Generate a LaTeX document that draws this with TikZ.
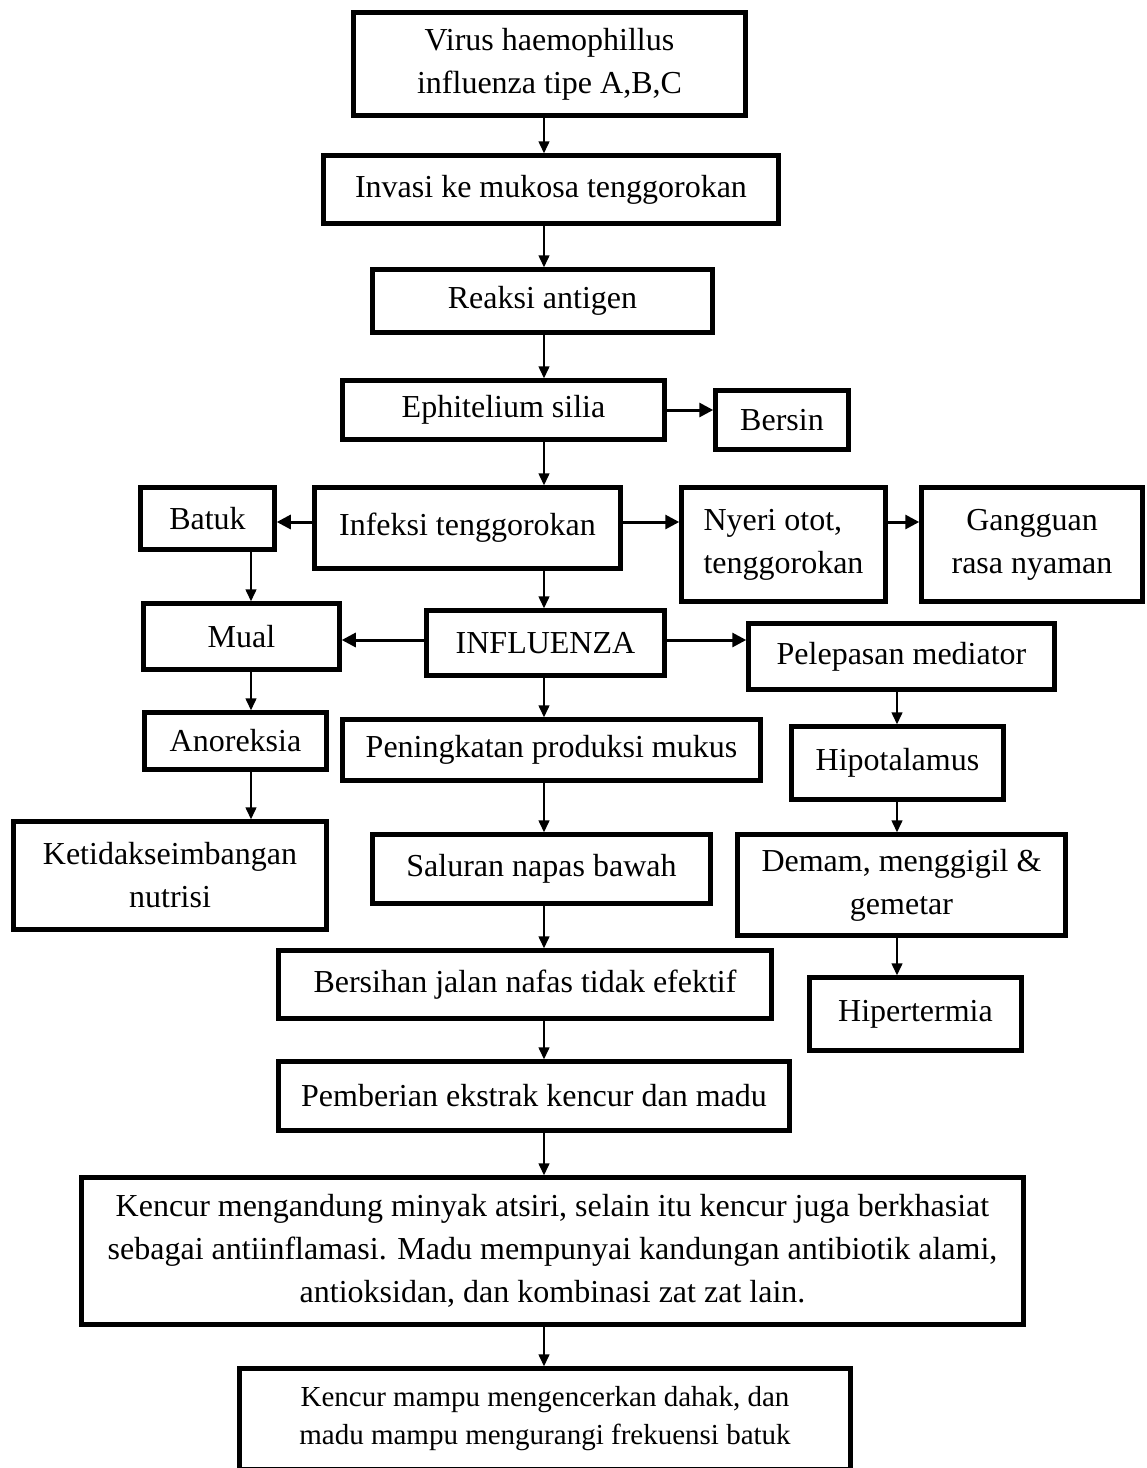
\documentclass[tikz,border=0pt]{standalone}
\usepackage{fontspec}
\setmainfont{Liberation Serif}
\usetikzlibrary{arrows.meta}
\usetikzlibrary{calc}

\begin{document}
\begin{tikzpicture}[x=1pt, y=-1pt,
  box/.style={draw, line width=4.5pt, inner sep=0pt, align=center,
    font=\fontsize{32}{43}\selectfont},
  arr/.style={line width=1.5pt, -{Triangle[length=12pt, width=11pt]}},
  harr/.style={line width=3pt, -{Triangle[length=14pt, width=14pt]}}]
\useasboundingbox (0,0) rectangle (1147,1468);
% kolom tengah
\node[box, minimum width=392pt, minimum height=103pt] (virus) at (549.5,64) {Virus haemophillus\\influenza tipe A,B,C};
\node[box, minimum width=455pt, minimum height=68pt] (invasi) at (551,189.5) {Invasi ke mukosa tenggorokan};
\node[box, minimum width=340pt, minimum height=63pt] (reaksi) at (542.5,301) {Reaksi antigen};
\node[box, minimum width=322pt, minimum height=59pt] (ephit) at (503.5,410) {Ephitelium silia};
\node[box, minimum width=133pt, minimum height=59pt] (bersin) at (782,420) {Bersin};
\node[box, minimum width=306pt, minimum height=81pt] (infeksi) at (467.5,528) {Infeksi tenggorokan};
\node[box, minimum width=238pt, minimum height=65pt] (influenza) at (545.5,643) {INFLUENZA};
\node[box, minimum width=418pt, minimum height=61pt] (peningkatan) at (551.5,750) {Peningkatan produksi mukus};
\node[box, minimum width=338pt, minimum height=69pt] (saluran) at (541.5,869) {Saluran napas bawah};
\node[box, minimum width=493pt, minimum height=68pt] (bersihan) at (525,984.5) {Bersihan jalan nafas tidak efektif};
\node[box, minimum width=511pt, minimum height=69pt] (pemberian) at (534,1096) {Pemberian ekstrak kencur dan madu};
\node[box, minimum width=942pt, minimum height=147pt] (kencur) at (552.5,1251) {Kencur mengandung minyak atsiri, selain itu kencur juga berkhasiat\\sebagai antiinflamasi. Madu mempunyai kandungan antibiotik alami,\\antioksidan, dan kombinasi zat zat lain.};
\node[box, minimum width=611pt, minimum height=101pt, font=\fontsize{29}{38}\selectfont] (hasil) at (545,1419) {Kencur mampu mengencerkan dahak, dan\\madu mampu mengurangi frekuensi batuk};
% kolom kiri
\node[box, minimum width=134pt, minimum height=62pt] (batuk) at (207.5,518.5) {Batuk};
\node[box, minimum width=196pt, minimum height=66pt] (mual) at (241.5,636.5) {Mual};
\node[box, minimum width=182pt, minimum height=57pt] (anoreksia) at (235.5,741) {Anoreksia};
\node[box, minimum width=313pt, minimum height=108pt] (nutrisi) at (170,875.5) {Ketidakseimbangan\\nutrisi};
% kolom kanan
\node[box, minimum width=204pt, minimum height=114pt, align=left] (nyeri) at (783.5,544.5) {Nyeri otot,\\tenggorokan};
\node[box, minimum width=221pt, minimum height=114pt] (nyaman) at (1032,544.5) {Gangguan\\rasa nyaman};
\node[box, minimum width=306pt, minimum height=66pt] (mediator) at (901.5,656.5) {Pelepasan mediator};
\node[box, minimum width=212pt, minimum height=73pt] (hipotalamus) at (897.5,763) {Hipotalamus};
\node[box, minimum width=328pt, minimum height=101pt] (demam) at (901.5,885) {Demam, menggigil \&\\gemetar};
\node[box, minimum width=212pt, minimum height=73pt] (hipertermia) at (915.5,1014) {Hipertermia};

\coordinate (spine) at (544,0);
\coordinate (kiri) at (251,0);
\coordinate (kanan) at (897,0);
\coordinate (rowa) at (0,522);
\coordinate (rowb) at (0,640);

\draw[arr] (virus.south -| spine) -- (invasi.north -| spine);
\draw[arr] (invasi.south -| spine) -- (reaksi.north -| spine);
\draw[arr] (reaksi.south -| spine) -- (ephit.north -| spine);
\draw[arr] (ephit.south -| spine) -- (infeksi.north -| spine);
\draw[arr] (infeksi.south -| spine) -- (influenza.north -| spine);
\draw[arr] (influenza.south -| spine) -- (peningkatan.north -| spine);
\draw[arr] (peningkatan.south -| spine) -- (saluran.north -| spine);
\draw[arr] (saluran.south -| spine) -- (bersihan.north -| spine);
\draw[arr] (bersihan.south -| spine) -- (pemberian.north -| spine);
\draw[arr] (pemberian.south -| spine) -- (kencur.north -| spine);
\draw[arr] (kencur.south -| spine) -- (hasil.north -| spine);

\draw[arr] (batuk.south -| kiri) -- (mual.north -| kiri);
\draw[arr] (mual.south -| kiri) -- (anoreksia.north -| kiri);
\draw[arr] (anoreksia.south -| kiri) -- (nutrisi.north -| kiri);

\draw[arr] (mediator.south -| kanan) -- (hipotalamus.north -| kanan);
\draw[arr] (hipotalamus.south -| kanan) -- (demam.north -| kanan);
\draw[arr] (demam.south -| kanan) -- (hipertermia.north -| kanan);

\draw[harr] (ephit.east) -- (bersin.west |- ephit.east);
\draw[harr] (infeksi.west |- rowa) -- (batuk.east |- rowa);
\draw[harr] (infeksi.east |- rowa) -- (nyeri.west |- rowa);
\draw[harr] (nyeri.east |- rowa) -- (nyaman.west |- rowa);
\draw[harr] (influenza.west |- rowb) -- (mual.east |- rowb);
\draw[harr] (influenza.east |- rowb) -- (mediator.west |- rowb);
\end{tikzpicture}
\end{document}
